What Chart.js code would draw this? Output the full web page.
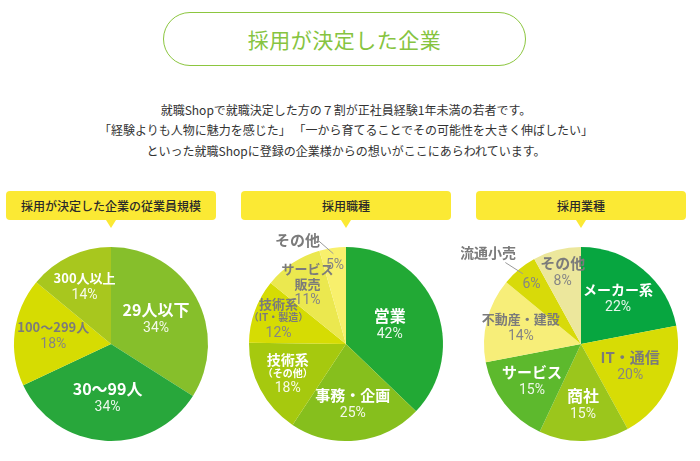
<!DOCTYPE html>
<html lang="ja">
<head>
<meta charset="utf-8">
<title>採用が決定した企業</title>
<script src="https://cdn.jsdelivr.net/npm/chart.js@4.4.1/dist/chart.umd.min.js"></script>
<style>
  html, body { margin: 0; padding: 0; background: #fff; }
  body { width: 700px; height: 461px; position: relative; overflow: hidden;
         font-family: "Noto Sans CJK JP", "Noto Sans", sans-serif; color: #333; }
  .pill { position: absolute; left: 163px; top: 12px; width: 363px; height: 54px;
          border: 1.5px solid #8cc63f; border-radius: 28px; box-sizing: border-box;
          text-align: center; line-height: 52px; font-size: 21px; color: #86c440; letter-spacing: 0.5px; }
  .lead { position: absolute; left: 0; width: 692px; top: 100px; text-align: center;
          font-size: 12px; line-height: 20.3px; color: #333; }
  .tag { position: absolute; top: 191px; height: 29px; width: 210px; background: #fbe934;
         border-radius: 4px; text-align: center; line-height: 29px; font-size: 12px;
         font-weight: 500; color: #2a2a2a; }
  .tag::after { content: ""; position: absolute; left: 50%; bottom: -8px; margin-left: -5px;
                border-left: 5px solid transparent; border-right: 5px solid transparent;
                border-top: 8px solid #fbe934; }
  canvas { position: absolute; top: 224px; }
</style>
</head>
<body>
<div class="pill">採用が決定した企業</div>
<div class="lead">
  就職Shopで就職決定した方の７割が正社員経験1年未満の若者です。<br>
  「経験よりも人物に魅力を感じた」 「一から育てることでその可能性を大きく伸ばしたい」<br>
  といった就職Shopに登録の企業様からの想いがここにあらわれています。
</div>
<div class="tag" style="left:6px">採用が決定した企業の従業員規模</div>
<div class="tag" style="left:241px">採用職種</div>
<div class="tag" style="left:476px">採用業種</div>

<canvas id="sizeChart" width="240" height="240" style="left:-9px"></canvas>
<canvas id="jobChart" width="240" height="240" style="left:226px"></canvas>
<canvas id="industryChart" width="240" height="240" style="left:461px"></canvas>

<script>
// data
const sizeLabels = [["29人以下"], ["30～99人"], ["100～299人"], ["300人以上"]];
const sizeValues = [34, 34, 18, 14];

const jobLabels = [["営業"], ["事務・企画"], ["技術系", "（その他）"], ["技術系", "（IT・製造）"], ["サービス", "販売"], ["その他"]];
const jobValues = [42, 25, 18, 12, 11, 5];

const industryLabels = [["メーカー系"], ["IT・通信"], ["商社"], ["サービス"], ["不動産・建設"], ["流通小売"], ["その他"]];
const industryValues = [22, 20, 15, 15, 14, 6, 8];

// styles
const sizeColors = ["#86bf2b", "#28a73b", "#d6dc02", "#a8c71e"];
const jobColors = ["#22a935", "#86bf1d", "#a6c90e", "#d6dc03", "#ebe84f", "#f8f06c"];
const industryColors = ["#07a640", "#d7dc05", "#9bc61c", "#5db92d", "#f7ee79", "#d8da09", "#ece79c"];

const sizeStyles = [
    { f: 0.53, sizes: [16] },
    { f: 0.56, sizes: [16] },
    { f: 0.60, sizes: [13], gray: true },
    { f: 0.64, sizes: [13] },
];
const jobStyles = [
    { f: 0.49, sizes: [16] },
    { f: 0.63, sizes: [15] },
    { f: 0.68, sizes: [14, 10] },
    { f: 0.74, sizes: [13, 10], gray: true },
    { f: 0.72, sizes: [13, 13], gray: true },
    { f: 0.82, sizes: [15], gray: true, callout: [-0.50, -1.07], lineFrom: [-0.29, -1.07] },
];
const industryStyles = [
    { f: 0.60, sizes: [14] },
    { f: 0.56, sizes: [15], gray: true },
    { f: 0.63, sizes: [16] },
    { f: 0.64, sizes: [15] },
    { f: 0.64, sizes: [13], gray: true },
    { f: 0.80, sizes: [14], gray: true, callout: [-0.96, -0.94], lineFrom: [-0.78, -0.84] },
    { f: 0.76, sizes: [15], gray: true },
];

const nameFont = (size) => `bold ${size}px "Noto Sans CJK JP", sans-serif`;
const pctFont = '14px Roboto, "Noto Sans", sans-serif';

// draws the slice names and percentages inside each slice
const sliceLabels = {
    id: "sliceLabels",
    afterDatasetsDraw(chart, args, opts) {
        const ctx = chart.ctx;
        const meta = chart.getDatasetMeta(0);
        const values = chart.data.datasets[0].data;
        ctx.save();
        ctx.textAlign = "center";
        ctx.textBaseline = "middle";
        meta.data.forEach((arc, i) => {
            const st = opts.styles[i];
            const p = arc.getProps(["x", "y", "startAngle", "endAngle", "outerRadius"], true);
            const mid = (p.startAngle + p.endAngle) / 2;
            const r = p.outerRadius;
            const names = chart.data.labels[i];
            const nameColor = st.gray ? "#7b7b7b" : "#ffffff";
            const pctColor = st.gray ? "#858585" : "rgba(255,255,255,0.9)";
            const pct = values[i] + "%";

            const px = p.x + Math.cos(mid) * r * st.f;
            const py = p.y + Math.sin(mid) * r * st.f;

            if (st.callout) {
                ctx.font = nameFont(st.sizes[0]);
                ctx.fillStyle = nameColor;
                ctx.fillText(names[0], p.x + st.callout[0] * r, p.y + st.callout[1] * r);
                ctx.strokeStyle = "#9a9a9a";
                ctx.lineWidth = 1;
                ctx.beginPath();
                ctx.moveTo(p.x + st.lineFrom[0] * r, p.y + st.lineFrom[1] * r);
                ctx.lineTo(p.x + Math.cos(mid) * r * 0.94, p.y + Math.sin(mid) * r * 0.94);
                ctx.stroke();
                ctx.font = pctFont;
                ctx.fillStyle = pctColor;
                ctx.fillText(pct, px, py);
                return;
            }

            const heights = st.sizes.map(s => Math.round(s * 1.15));
            const pctH = 19;
            const total = heights.reduce((a, b) => a + b, 0) + pctH;
            let yy = py - total / 2;
            names.forEach((line, j) => {
                ctx.font = nameFont(st.sizes[j]);
                ctx.fillStyle = nameColor;
                ctx.fillText(line, px, yy + heights[j] / 2);
                yy += heights[j];
            });
            ctx.font = pctFont;
            ctx.fillStyle = pctColor;
            ctx.fillText(pct, px, yy + pctH / 2);
        });
        ctx.restore();
    }
};

const drawPie = (id, labels, values, colors, styles) => {
    const ctx = document.getElementById(id).getContext("2d");
    return new Chart(ctx, {
        type: "pie",
        data: {
            labels: labels,
            datasets: [
                {
                    data: values,
                    backgroundColor: colors,
                    borderWidth: 0,
                    radius: 97,
                },
            ],
        },
        options: {
            responsive: false,
            animation: false,
            layout: { padding: 0 },
            plugins: {
                legend: { display: false },
                tooltip: { enabled: false },
                sliceLabels: { styles: styles },
            },
        },
        plugins: [sliceLabels],
    });
};

drawPie("sizeChart", sizeLabels, sizeValues, sizeColors, sizeStyles);
drawPie("jobChart", jobLabels, jobValues, jobColors, jobStyles);
drawPie("industryChart", industryLabels, industryValues, industryColors, industryStyles);
</script>
</body>
</html>
